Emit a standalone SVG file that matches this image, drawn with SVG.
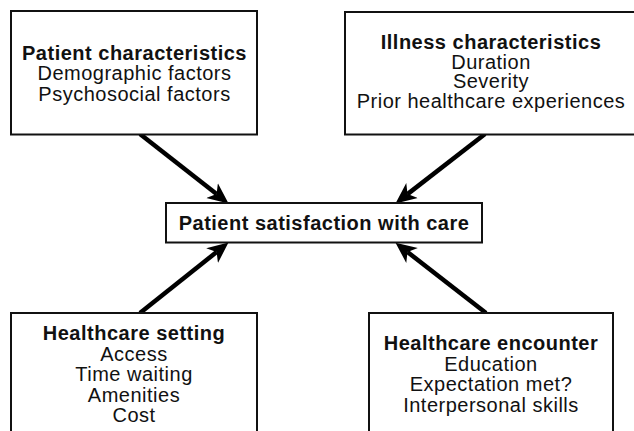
<svg xmlns="http://www.w3.org/2000/svg" width="634" height="431" viewBox="0 0 634 431">
  <style>
    .box { fill: #ffffff; stroke: #111111; stroke-width: 2; }
    .title { font-family: "Liberation Sans", Arial, Helvetica, sans-serif; font-size: 20px; letter-spacing: 0.5px; font-weight: bold; fill: #111111; text-anchor: middle; }
    .item { font-family: "Liberation Sans", Arial, Helvetica, sans-serif; font-size: 20px; letter-spacing: 0.5px; fill: #111111; text-anchor: middle; }
    .link { stroke: #000000; stroke-width: 4.5; fill: none; marker-end: url(#head); }
  </style>
  <defs>
    <marker id="head" markerUnits="userSpaceOnUse" markerWidth="22" markerHeight="22" viewBox="0 -10 21 20" refX="5.5" refY="0" orient="auto">
      <path d="M20,0 L0,-9 L5.5,0 L0,9 Z" fill="#000000"/>
    </marker>
  </defs>
  <rect width="634" height="431" fill="#ffffff"/>

  <g id="connectors">
    <line class="link" x1="140" y1="134" x2="216.6" y2="194.1"/>
    <line class="link" x1="485" y1="134" x2="407.5" y2="194.1"/>
    <line class="link" x1="140" y1="313" x2="216.6" y2="252"/>
    <line class="link" x1="486" y1="313" x2="407.5" y2="252"/>
  </g>

  <g id="patient-characteristics">
    <rect class="box" x="11" y="11" width="246" height="123.5"/>
    <text class="title" x="134.5" y="59.5">Patient characteristics</text>
    <text class="item" x="134.5" y="80">Demographic factors</text>
    <text class="item" x="134.5" y="100.5">Psychosocial factors</text>
  </g>

  <g id="illness-characteristics">
    <rect class="box" x="345" y="12" width="292" height="122.5"/>
    <text class="title" x="491" y="48.5">Illness characteristics</text>
    <text class="item" x="491" y="68.5">Duration</text>
    <text class="item" x="491" y="88">Severity</text>
    <text class="item" x="491" y="108">Prior healthcare experiences</text>
  </g>

  <g id="patient-satisfaction">
    <rect class="box" x="166" y="203" width="316" height="39.5"/>
    <text class="title" x="324" y="229.5">Patient satisfaction with care</text>
  </g>

  <g id="healthcare-setting">
    <rect class="box" x="11" y="313" width="246" height="130"/>
    <text class="title" x="134" y="340">Healthcare setting</text>
    <text class="item" x="134" y="360.5">Access</text>
    <text class="item" x="134" y="381">Time waiting</text>
    <text class="item" x="134" y="401.5">Amenities</text>
    <text class="item" x="134" y="422">Cost</text>
  </g>

  <g id="healthcare-encounter">
    <rect class="box" x="369" y="313" width="244" height="130"/>
    <text class="title" x="491" y="350">Healthcare encounter</text>
    <text class="item" x="491" y="370.5">Education</text>
    <text class="item" x="491" y="391">Expectation met?</text>
    <text class="item" x="491" y="411.5">Interpersonal skills</text>
  </g>
</svg>
